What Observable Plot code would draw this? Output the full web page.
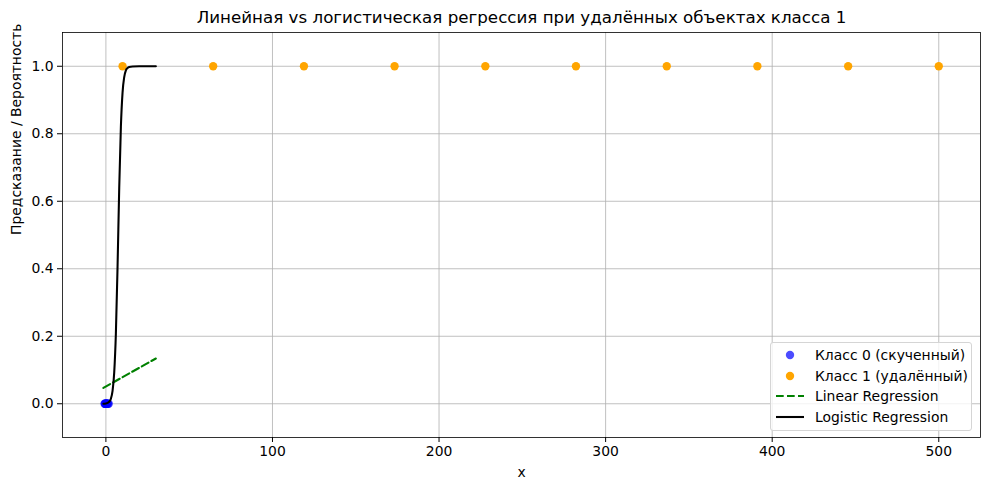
<!DOCTYPE html>
<html>
<head>
<meta charset="utf-8">
<script src="https://cdn.jsdelivr.net/npm/d3@7"></script>
<script src="https://cdn.jsdelivr.net/npm/@observablehq/plot@0.6"></script>
<style>
  body { margin: 0; background: #fff; }
  #wrap { position: relative; width: 989px; height: 490px; font-family: "DejaVu Sans", sans-serif; }
  #legend { position: absolute; left: 770px; top: 342px; width: 202px; height: 89px; box-sizing: border-box;
    border: 1px solid #d5d5d5; border-radius: 3px; background: rgba(255,255,255,0.8); font-size: 13.9px; color: #000; }
  .row { position: absolute; left: 0; height: 20px; line-height: 20px; white-space: nowrap; }
  .row span.t { position: absolute; left: 44px; top: 0; }
  .sym { position: absolute; left: 5px; top: 0; }
</style>
</head>
<body>
<div id="wrap"></div>
<script>
const title = "Линейная vs логистическая регрессия при удалённых объектах класса 1";
const xLabel = "x";
const yLabel = "Предсказание / Вероятность";
const legendLabels = ["Класс 0 (скученный)", "Класс 1 (удалённый)", "Linear Regression", "Logistic Regression"];

const class0X = [-0.8, -0.5, -0.3, -0.1, 0.1, 0.3, 0.5, 0.8, 1.2, 1.7];
const class0Y = [0, 0, 0, 0, 0, 0, 0, 0, 0, 0];
const class1X = [10, 64.4, 118.9, 173.3, 227.8, 282.2, 336.7, 391.1, 445.6, 500];
const class1Y = [1, 1, 1, 1, 1, 1, 1, 1, 1, 1];

const linX = [-1.5, 30];
const linY = [0.047, 0.134];

const logX = [-1.5, 0, 2, 3, 4, 5, 6, 7, 8, 9, 10, 11, 12, 13, 14, 16, 20, 30];
const logY = [0.0002, 0.0009, 0.006, 0.015, 0.038, 0.093, 0.209, 0.406, 0.639, 0.821, 0.922, 0.968, 0.988, 0.995, 0.998, 0.9995, 1.0, 1.0];

const xTicks = [0, 100, 200, 300, 400, 500];
const yTicks = [0, 0.2, 0.4, 0.6, 0.8, 1.0];

const c0 = class0X.map((x, i) => ({x, y: class0Y[i]}));
const c1 = class1X.map((x, i) => ({x, y: class1Y[i]}));
const lin = linX.map((x, i) => ({x, y: linY[i]}));
const lg = logX.map((x, i) => ({x, y: logY[i]}));

const chart = Plot.plot({
  width: 989,
  height: 490,
  marginLeft: 62,
  marginRight: 9,
  marginTop: 32,
  marginBottom: 53,
  style: { fontFamily: "DejaVu Sans, sans-serif", fontSize: "13.9px", color: "#000", background: "#fff" },
  x: { domain: [-26.05, 525.05], label: null },
  y: { domain: [-0.1, 1.1], label: null },
  marks: [
    Plot.gridX(xTicks, { stroke: "#b0b0b0", strokeOpacity: 1, strokeWidth: 0.8 }),
    Plot.gridY(yTicks, { stroke: "#b0b0b0", strokeOpacity: 1, strokeWidth: 0.8 }),
    Plot.axisX(xTicks, { tickSize: 5, tickPadding: 4, label: null, fontSize: 13.9 }),
    Plot.axisY(yTicks, { tickSize: 5, tickPadding: 4, label: null, tickFormat: d3.format(".1f"), fontSize: 13.9 }),
    Plot.dot(c0, { x: "x", y: "y", r: 4.17, fill: "blue", fillOpacity: 0.7, stroke: "none" }),
    Plot.dot(c1, { x: "x", y: "y", r: 4.17, fill: "orange", stroke: "none" }),
    Plot.line(lin, { x: "x", y: "y", stroke: "green", strokeWidth: 2.08, strokeDasharray: "7.7,3.3" }),
    Plot.line(lg, { x: "x", y: "y", stroke: "black", strokeWidth: 2.08, curve: "monotone-x" }),
    Plot.frame({ stroke: "black", strokeWidth: 0.8 }),
    Plot.text([title], { frameAnchor: "top", dy: -15, text: d => d, fontSize: 16.7, lineAnchor: "middle", fill: "black" }),
    Plot.text([xLabel], { frameAnchor: "bottom", dy: 35, text: d => d, fontSize: 13.9, lineAnchor: "middle", fill: "black" }),
    Plot.text([yLabel], { frameAnchor: "left", dx: -46, text: d => d, fontSize: 13.9, rotate: -90, lineAnchor: "middle", fill: "black" })
  ]
});
const wrap = document.getElementById("wrap");
wrap.appendChild(chart);

const legend = document.createElement("div");
legend.id = "legend";
const kinds = [
  {type: "dot", color: "blue", op: 0.7},
  {type: "dot", color: "orange", op: 1},
  {type: "dash", color: "green"},
  {type: "line", color: "black"}
];
const NS = "http://www.w3.org/2000/svg";
legendLabels.forEach((lab, i) => {
  const row = document.createElement("div");
  row.className = "row";
  row.style.top = (2 + i * 20.7) + "px";
  row.style.width = "100%";
  const k = kinds[i];
  const svg = document.createElementNS(NS, "svg");
  svg.setAttribute("class", "sym");
  svg.setAttribute("width", "30");
  svg.setAttribute("height", "20");
  if (k.type === "dot") {
    const c = document.createElementNS(NS, "circle");
    c.setAttribute("cx", "14"); c.setAttribute("cy", "10"); c.setAttribute("r", "4.17");
    c.setAttribute("fill", k.color); c.setAttribute("fill-opacity", k.op);
    svg.appendChild(c);
  } else {
    const l = document.createElementNS(NS, "line");
    l.setAttribute("x1", "0"); l.setAttribute("x2", "28");
    l.setAttribute("y1", "10"); l.setAttribute("y2", "10");
    l.setAttribute("stroke", k.color); l.setAttribute("stroke-width", "2.08");
    if (k.type === "dash") l.setAttribute("stroke-dasharray", "7.7,3.3");
    svg.appendChild(l);
  }
  row.appendChild(svg);
  const t = document.createElement("span");
  t.className = "t";
  t.textContent = lab;
  row.appendChild(t);
  legend.appendChild(row);
});
wrap.appendChild(legend);
</script>
</body>
</html>
